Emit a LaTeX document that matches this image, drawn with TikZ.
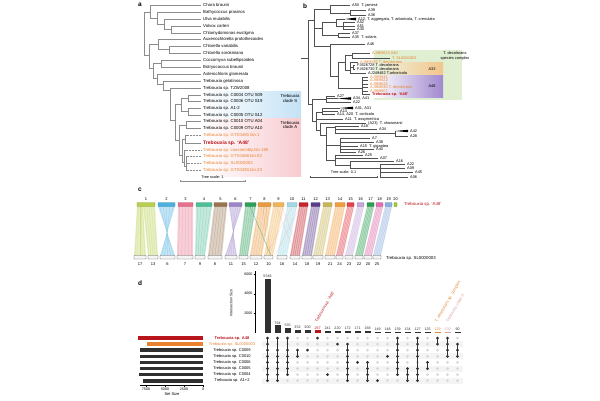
\documentclass[tikz,border=0pt]{standalone}
\usepackage{fontspec}
\setmainfont{Liberation Sans}
\definecolor{treeg}{HTML}{8C8C8C}
\definecolor{treeb}{HTML}{505050}
\definecolor{orL}{HTML}{E8822E}
\definecolor{redA}{HTML}{B8141B}
\definecolor{clS}{HTML}{C4E2F5}
\definecolor{clA}{HTML}{F8CBD0}
\definecolor{clG}{HTML}{E0EFD2}
\definecolor{clO}{HTML}{F3C58A}
\definecolor{clP}{HTML}{A189CF}
\definecolor{dk}{HTML}{303030}
\definecolor{gdot}{HTML}{D8D8D8}
\definecolor{pkD}{HTML}{D9A2A6}
\definecolor{cA}{HTML}{B9CF4E}
\definecolor{cB}{HTML}{4AB0E0}
\definecolor{cC}{HTML}{E86F8C}
\definecolor{cD}{HTML}{4CBF96}
\definecolor{cE}{HTML}{9A7350}
\definecolor{cF}{HTML}{9B84C8}
\definecolor{cG}{HTML}{2EA05A}
\definecolor{cH}{HTML}{E89A3C}
\definecolor{cI}{HTML}{F2B45A}
\definecolor{cJ}{HTML}{9FD8E6}
\definecolor{cK}{HTML}{C4262E}
\definecolor{cL}{HTML}{5A3C8C}
\definecolor{cM}{HTML}{C8B454}
\definecolor{cN}{HTML}{F39C3C}
\definecolor{cO}{HTML}{E4404C}
\definecolor{cP}{HTML}{C5A6D8}
\definecolor{cQ}{HTML}{2AA050}
\definecolor{cR}{HTML}{E070B0}
\definecolor{cS}{HTML}{8AAEE0}
\definecolor{cT}{HTML}{9ACD32}
\newcommand\myrib[5]{%
  \fill[#1,opacity=0.33] (#2,206.5) -- (#3,206.5) -- (#5,255.5) -- (#4,255.5) -- cycle;
  \foreach \qq in {0.1,0.3,0.5,0.7,0.9}{\draw[#1,opacity=0.5,line width=0.25pt] ({#2+\qq*(#3-#2)},206.5) -- ({#4+\qq*(#5-#4)},255.5);}}
\newcommand\myribx[5]{%
  \fill[#1,opacity=0.33] (#2,206.5) -- (#3,206.5) -- (#4,255.5) -- (#5,255.5) -- cycle;
  \foreach \qq in {0.1,0.3,0.5,0.7,0.9}{\draw[#1,opacity=0.5,line width=0.25pt] ({#2+\qq*(#3-#2)},206.5) -- ({#5-\qq*(#5-#4)},255.5);}}
\begin{document}
\begin{tikzpicture}[x=1pt,y=-1pt,
  tl/.style={font=\fontsize{4.3}{5}\selectfont,inner sep=0pt,anchor=west},
  bl/.style={font=\fontsize{3.9}{4.5}\selectfont,inner sep=0pt,anchor=west},
  cl/.style={font=\fontsize{4}{5}\selectfont,inner sep=0pt},
  dl/.style={font=\fontsize{3.6}{4.5}\selectfont,inner sep=0pt},
  plab/.style={font=\fontsize{6.5}{7}\selectfont\bfseries,inner sep=0pt},
  tra/.style={draw=treeg,line width=0.35pt},
  trb/.style={draw=treeb,line width=0.3pt},
  dotl/.style={draw=treeg,line width=0.35pt,dash pattern=on 0.6pt off 0.9pt},
  wedge/.style={fill=black}]
\useasboundingbox (0,0) rectangle (600,400);
\fill[white] (0,0) rectangle (600,400);

% ================= panel a =================
\node[plab] (pa) at (140,5) {a};
\shade[left color=white,right color=clS] (202,91.5) rectangle (301,118.3);
\shade[left color=white,right color=clA] (202,118.3) rectangle (301,176);
\node[tl,anchor=center,align=center] (cS) at (290,98.5) {Trebouxia\\[-0.6pt]clade S};
\node[tl,anchor=center,align=center] (cA2) at (290,125) {Trebouxia\\[-0.6pt]clade A};

\foreach \y/\t [count=\i] in {5/Chara braunii,12/Bathycoccus prasinos,19/Ulva mutabilis,26/Volvox carteri,33/Chlamydomonas eustigma,39.5/Auxenochlorella protothecoides,46/Chlorella variabilis,53/Chlorella sorokiniana,60/Coccomyxa subellipsoidea,67/Botryococcus braunii,74/Asterochloris glomerata,81/Trebouxia gelatinosa,88/Trebouxia sp. TZW2008,95/Trebouxia sp. C0004 OTU S09,101.5/Trebouxia sp. C0006 OTU S19,108/Trebouxia sp. A1-2,115/Trebouxia sp. C0005 OTU S12,121.5/Trebouxia sp. C0010 OTU A04,128.5/Trebouxia sp. C0009 OTU A10}
  \node[tl] (la\i) at (203,\y) {\t};
\foreach \y/\t [count=\i] in {135.5/Trebouxia sp. GTX0465 bin.1,150/Trebouxia sp. coassembly.bin.195,156.5/Trebouxia sp. GTX0468.bin.53,163/Trebouxia sp. SL0000003,170/Trebouxia sp. GTX0493.bin.23}
  \node[tl,text=orL] (lo\i) at (203,\y) {\t};
\node[tl,text=redA,font=\fontsize{5}{6}\selectfont\bfseries] (lA48) at (203,143) {Trebouxia sp. ‘A48’};

\draw[tra]
 (144,12)--(144,55)
 (144,12)--(150,12) (150,5)--(150,18) (150,5)--(201,5)
 (150,18)--(157,18) (157,12)--(157,24) (157,12)--(201,12)
 (157,24)--(164,24) (164,19)--(164,29.5) (164,19)--(201,19)
 (164,29.5)--(171,29.5) (171,26)--(171,33) (171,26)--(201,26) (171,33)--(201,33)
 (144,55)--(149,55) (149,44)--(149,68)
 (149,44)--(158,44) (158,39.5)--(158,49.5) (158,39.5)--(201,39.5)
 (158,49.5)--(169,49.5) (169,46)--(169,53) (169,46)--(201,46) (169,53)--(201,53)
 (149,68)--(153,68) (153,63.5)--(153,78)
 (153,63.5)--(161,63.5) (161,60)--(161,67) (161,60)--(201,60) (161,67)--(201,67)
 (153,78)--(157,78) (157,74)--(157,84) (157,74)--(201,74)
 (157,84)--(163,84) (163,81)--(163,90) (163,81)--(201,81)
 (163,90)--(170,90) (170,88)--(170,120) (170,88)--(201,88)
 (170,120)--(175,120) (175,104)--(175,140)
 (175,104)--(181,104) (181,98)--(181,111.5)
 (181,98)--(188,98) (188,95)--(188,101.5) (188,95)--(201,95) (188,101.5)--(201,101.5)
 (181,111.5)--(188,111.5) (188,108)--(188,115) (188,108)--(201,108) (188,115)--(201,115)
 (175,140)--(179,140) (179,125)--(179,155)
 (179,125)--(186,125) (186,121.5)--(186,128.5) (186,121.5)--(201,121.5) (186,128.5)--(201,128.5)
 (179,155)--(182,155) (182,139)--(182,162)
 (182,139)--(185,139) (185,135.5)--(185,143) (185,135.5)--(188,135.5) (185,143)--(201,143)
 (182,162)--(184,162) (184,150)--(184,166) (184,150)--(187,150)
 (184,166)--(186,166) (186,156.5)--(186,170) (186,156.5)--(188,156.5) (186,163)--(189,163) (186,170)--(188,170);
\draw[dotl] (188,135.5)--(201,135.5) (187,150)--(201,150) (188,156.5)--(201,156.5) (189,163)--(201,163) (188,170)--(201,170);
\draw[tra] (180,181)--(245,181) (180,179.8)--(180,182.2) (245,179.8)--(245,182.2);
\node[cl,font=\fontsize{3.8}{4.5}\selectfont] (tsa) at (212.5,177) {Tree scale: 1};

% ================= panel b =================
\node[plab] (pb) at (305,6) {b};
\fill[clG] (374,50) rectangle (462,100);
\shade[left color=clG!60!white,right color=clO] (374,62.5) rectangle (443,75.5);
\shade[left color=white,right color=clP] (374,75.5) rectangle (443,97.5);
\node[bl,anchor=center] (bA33) at (432,69) {A33};
\node[bl,anchor=center] (bA48) at (432,86.5) {A48};
\node[bl,anchor=center,align=center] (bdec) at (455,56) {T. decolorans\\[-0.4pt]species complex};

\draw[trb]
 (301,58)--(308,58) (308,20)--(308,104)
 (308,20)--(314,20) (314,9)--(314,46)
 (314,9)--(330,9) (330,5)--(330,13) (330,5)--(350,5)
 (330,13)--(350,13) (350,10.5)--(350,15.5) (350,10.5)--(366,10.5) (350,15.5)--(366,15.5)
 (314,28)--(322,28) (322,22)--(322,35)
 (322,22)--(336,22) (336,19)--(336,26) (336,19)--(345,19)
 (336,26)--(343,26) (343,22.5)--(343,29.5) (343,22.5)--(355,22.5) (343,26)--(355,26) (343,29.5)--(355,29.5)
 (322,35)--(338,35) (338,33)--(338,37) (338,33)--(350,33) (338,37)--(350,37)
 (314,46)--(330,46) (330,44)--(330,76) (330,44)--(365,44)
 (330,76)--(338,76) (338,62)--(338,88)
 (338,62)--(345,62) (345,55)--(345,70)
 (345,55)--(352,55) (352,53)--(352,58.5) (352,53)--(370,53) (352,58.5)--(390,58.5)
 (345,70)--(350,70) (350,62)--(350,73.5) (350,62)--(358,62) (350,73.5)--(366,73.5)
 (350,67.5)--(353,67.5) (353,65.5)--(353,69.5) (353,65.5)--(355,65.5) (353,69.5)--(355,69.5)
 (338,88)--(362,88) (362,77)--(362,94.5)
 (362,77)--(368,77) (362,80.5)--(368,80.5) (362,84)--(368,84) (362,87.5)--(368,87.5) (362,91)--(368,91) (362,94.5)--(370,94.5)
 (308,104)--(312,104) (312,99)--(312,121)
 (312,99)--(326,99) (326,96)--(326,102)
 (326,96)--(335,96) (326,98.5)--(338,98.5) (326,102)--(351,102)
 (312,121)--(316,121) (316,112)--(316,130)
 (316,112)--(322,112) (322,108)--(322,114)
 (322,108)--(340,108) (322,111)--(338,111) (322,114)--(335,114)
 (316,119)--(343,119)
 (316,130)--(320,130) (320,123)--(320,135)
 (320,123)--(366,123)
 (320,135)--(326,135) (326,127)--(326,160)
 (326,127)--(335,127) (335,126)--(335,133)
 (335,126)--(359,126) (335,129)--(377,129) (335,133)--(395,133)
 (395,131)--(395,136) (395,136)--(408,136)
 (326,145)--(340,145) (340,138)--(340,152)
 (340,138)--(370,138) (340,142)--(374,142) (340,146)--(358,146) (340,149)--(374,149) (340,152)--(356,152)
 (326,160)--(335,160) (335,155)--(335,165)
 (335,155)--(363,155) (335,158)--(378,158)
 (335,165)--(350,165) (350,161)--(350,168)
 (350,161)--(394,161) (350,168)--(380,168) (380,164)--(380,177)
 (380,164)--(405,164) (380,168)--(405,168) (380,172)--(413,172) (380,177)--(408,177);
\fill[wedge] (345,19)--(356,17.6)--(356,20.4)--cycle;
\fill[wedge] (338,98.5)--(351,97.2)--(351,99.8)--cycle;
\fill[wedge] (340,108)--(353,106.7)--(353,109.3)--cycle;
\fill[wedge] (395,131)--(408,129.8)--(408,132.2)--cycle;
\draw[trb] (310,177)--(377,177) (310,175.8)--(310,178.2) (377,175.8)--(377,178.2);
\node[bl,anchor=center,font=\fontsize{3.8}{4.5}\selectfont] (tsb) at (343.5,172.5) {Tree scale: 0.1};

\foreach \x/\y/\t [count=\i] in {352/5/{A50\ \ T. jamesii},368/10.5/A39,368/15.5/A36,358/19/{A12, T. aggregata, T. arboricola, T. crenulata},357/22.5/A52,357/26/A51,357/29.5/A30,352/33/A37,352/37/{A35\ \ T. solaris},367/44/A46,357/65.5/{FJ626728 T. decolorans},357/69.5/{FJ626730 T. decolorans},368/73.5/{AJ249482 T.arboricola},337/96/A27,353/98.5/{A34, A41},353/102/A22,355/108/{A01, A31},340/111/A13,337/114/{A14, A20\ \ T. corticola},345/119/{A11\ \ T. assymetrica},368/123/{(A23)\ \ T. showmanii},361/126/A18,379/129/A34,410/131/A42,410/136/A28,372/138/A7,376/142/A38,360/146/{A15\ \ T. gigantea},376/149/A40,358/152/A26,365/155/A25,380/158/A07,396/161/A16,407/164/A22,407/168/A09,415/172/A45,410/177/A06}
  \node[bl] (lb\i) at (\x,\y) {\t};
\foreach \x/\y/\t [count=\i] in {372/53/{AJ969613 A40},392/58.5/{T. SL0000003},360/62/{AJ969592 T. decolorans},370/77/AJ969641,370/80.5/AJ969622,370/84/AJ969620,370/87.5/{AJ969630 T. decolorans},370/91/AJ969607}
  \node[bl,text=orL] (lbo\i) at (\x,\y) {\t};
\node[bl,text=redA,font=\fontsize{3.9}{4.5}\selectfont\bfseries] (lbA48) at (372,94.5) {Trebouxia sp. ‘A48’};

% ================= panel c =================
\node[plab] (pc) at (140,190) {c};
\myrib{cA}{137}{143}{134}{146}
\myrib{cA}{143}{155}{148}{158}
\myribx{cB}{158}{175}{160}{175}
\myrib{cC}{178}{193}{177}{193}
\myrib{cD}{196}{212}{195}{205}
\myrib{cE}{214}{227}{208}{222}
\myribx{cF}{229}{242}{225}{237}
\myrib{cG}{245}{256}{239}{248}
\myrib{cH}{258}{271}{250}{262}
\myrib{cI}{273}{284}{264}{273}
\myrib{cJ}{287}{297}{277}{287}
\myrib{cK}{299}{308}{290}{300}
\myrib{cL}{311}{320}{302}{312}
\myrib{cM}{323}{332}{313}{323}
\myrib{cN}{335}{345}{325}{335}
\myrib{cO}{347}{354}{336}{343}
\myrib{cP}{357}{364}{345}{353}
\myrib{cQ}{367}{374}{355}{363}
\myrib{cR}{376}{383}{364}{372}
\myrib{cS}{385}{392}{373}{381}
\draw[cG,opacity=0.7,line width=0.35pt] (250,206.5)--(271,255.5);
\draw[cH,opacity=0.6,line width=0.3pt] (263,206.5)--(268,255.5) (266,206.5)--(270,255.5);
\draw[cC!70,opacity=0.45,line width=0.25pt] (276,206.5)--(296,255.5) (292,206.5)--(266,255.5) (282,206.5)--(300,255.5) (300,206.5)--(275,255.5);
\foreach \a/\b/\c [count=\i] in {137/155/cA,158/175/cB,178/193/cC,196/212/cD,214/227/cE,229/242/cF,245/256/cG,258/271/cH,273/284/cI,287/297/cJ,299/308/cK,311/320/cL,323/332/cM,335/345/cN,347/354/cO,357/364/cP,367/374/cQ,376/383/cR,385/392/cS,394/397/cT}
{
  \fill[\c,draw=\c!75!black,line width=0.2pt,rounded corners=0.5pt] (\a,202.5) rectangle (\b,206.5);
  \node[cl] (nt\i) at ({(\a+\b)/2},199) {\i};
}
\node[cl,anchor=west,text=redA,font=\fontsize{4.3}{5}\selectfont] (cA48) at (404,204.5) {Trebouxia sp. ‘A48’};
\foreach \a/\b/\n [count=\i] in {134/146/17,148/158/13,160/175/6,177/193/7,195/205/9,208/222/8,225/237/11,239/248/15,250/262/12,264/273/10,277/287/16,290/300/14,302/312/18,313/323/19,325/335/21,336/343/24,345/353/23,355/363/22,364/372/20,373/381/25}
{
  \draw[draw=gray!70!black,fill=gray!8,line width=0.3pt,rounded corners=0.4pt] (\a,255.5) rectangle (\b,259);
  \node[cl] (nb\i) at ({(\a+\b)/2},264) {\n};
}
\node[cl,anchor=west,font=\fontsize{4.3}{5}\selectfont] (cSL) at (386,258) {Trebouxia sp. SL0000003};

% ================= panel d =================
\node[plab] (pd) at (140,283) {d};
\foreach \r in {2,4,6,8} \fill[gray!9] (262,{338+6.1*(\r-1)-3}) rectangle (463,{338+6.1*(\r-1)+3});
\draw[line width=0.3pt] (255,271)--(255,333);
\foreach \v/\y in {6000/274,4000/293.7,2000/313.3}{
  \draw[line width=0.3pt] (253.5,\y)--(255,\y);
  \node[dl,anchor=east] (ax\v) at (252.5,\y) {\v};}
\node[dl,rotate=90] (isz) at (231,303) {Intersection Size};
\foreach \c/\v/\col in {1/5546/dk,2/764/dk,3/535/dk,4/352/dk,5/300/dk,6/267/redA,7/241/dk,8/220/dk,9/172/dk,10/171/dk,11/168/dk,12/149/dk,13/148/dk,14/139/dk,15/134/dk,16/127/dk,17/125/dk,18/129/orL,19/130/pkD,20/90/dk}
{
  \fill[\col] ({267.5+10*(\c-1)-3},333) rectangle ({267.5+10*(\c-1)+3},{333-\v*0.009833});
  \node[dl,text=\col] (iv\c) at ({267.5+10*(\c-1)},{333-\v*0.009833-2.6}) {\v};
}
\node[dl,anchor=south west,rotate=60,text=redA,font=\fontsize{4}{5}\selectfont] (rA48) at (318,323) {Trebouxia sp. ‘A48’};
\node[dl,anchor=south west,rotate=60,text=orL,font=\fontsize{4}{5}\selectfont] (rdec) at (438,323) {T. decolorans sp. complex};
\node[dl,anchor=south west,rotate=60,text=pkD,font=\fontsize{4}{5}\selectfont] (rcla) at (448.5,323) {Trebouxia clade A};
\foreach \c in {1,...,20}{\foreach \r in {1,...,8}{\fill[gdot] ({267.5+10*(\c-1)},{338+6.1*(\r-1)}) circle[radius=1.5pt];}}
\foreach \c/\rs/\lo/\hi in {1/{1,2,3,4,5,6,7,8}/1/8,2/{1,3,4,5,6,7,8}/1/8,3/{1,3,4,5,6,7}/1/7,4/{3,4}/3/4,5/{3}/3/3,6/{1}/1/1,7/{7}/7/7,8/{2}/2/2,9/{2,3,4,5,6,7,8}/2/8,10/{5}/5/5,11/{5,6,7,8}/5/8,12/{8}/8/8,13/{4}/4/4,14/{1,2,3,4,5,6,7}/1/7,15/{6,7,8}/6/8,16/{1,2,3,4,6,7,8}/1/8,17/{5,6}/5/6,18/{1,2}/1/2,19/{1,2,3,4}/1/4,20/{2,3,4}/2/4}
{
  \draw[dk,line width=0.6pt] ({267.5+10*(\c-1)},{338+6.1*(\lo-1)}) -- ({267.5+10*(\c-1)},{338+6.1*(\hi-1)});
  \foreach \r in \rs {\fill[dk] ({267.5+10*(\c-1)},{338+6.1*(\r-1)}) circle[radius=1.5pt];}
}
\foreach \r/\x/\col in {1/138/redA,2/147/orL,3/140/dk,4/140/dk,5/140/dk,6/140/dk,7/139/dk,8/143/dk}
  \fill[\col] (\x,{338+6.1*(\r-1)-1.8}) rectangle (203,{338+6.1*(\r-1)+1.8});
\draw[line width=0.3pt] (140,385)--(203,385);
\foreach \x/\v in {146/7500,165/5000,184/2500,203/0}{
  \draw[line width=0.3pt] (\x,385)--(\x,386.5);
  \node[dl] (sx\v) at (\x,389) {\v};}
\node[dl,font=\fontsize{4}{5}\selectfont] (ssz) at (172,394.5) {Set Size};
\node[dl,text=redA,font=\fontsize{4}{5}\selectfont\bfseries] (rl1) at (232,338) {Trebouxia sp. A48};
\node[dl,text=orL,font=\fontsize{4}{5}\selectfont] (rl2) at (232,344.1) {Trebouxia sp. SL0000003};
\foreach \t [count=\i from 3] in {C0009,C0010,C0006,C0005,C0004,A1+2}
  \node[dl,font=\fontsize{4}{5}\selectfont] (rl\i) at (232,{338+6.1*(\i-1)}) {Trebouxia sp. \t};
\end{tikzpicture}
\end{document}
